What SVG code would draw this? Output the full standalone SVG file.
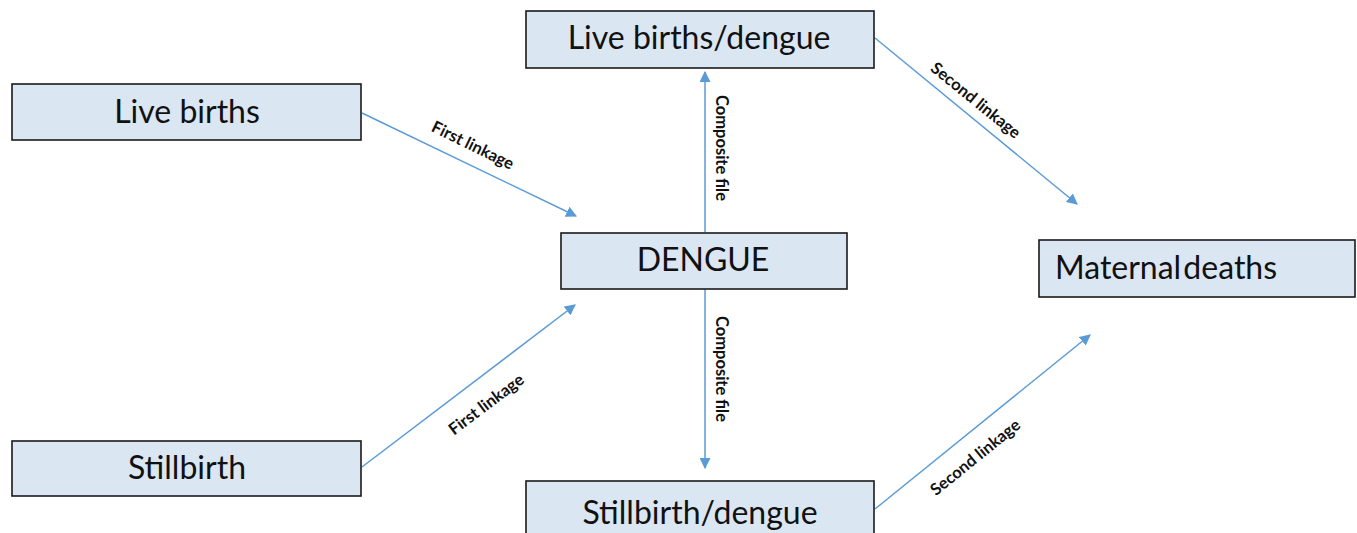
<svg xmlns="http://www.w3.org/2000/svg" width="1357" height="533" viewBox="0 0 1357 533">
<defs>
<style>
.box{fill:#dbe6f3;stroke:#1a1a1a;stroke-width:1.6}
.t{font-family:Lato,"Open Sans",sans-serif;font-size:32px;fill:#111}
.c{stroke:#5b9bd5;stroke-width:1.5;fill:none;marker-end:url(#ah)}
.l{font-family:Lato,"Open Sans",sans-serif;font-size:16.5px;font-weight:bold;fill:#111}
</style>
<marker id="ah" viewBox="0 0 10 10" refX="9" refY="5" markerWidth="11" markerHeight="11" markerUnits="userSpaceOnUse" orient="auto">
<path d="M0,0 L10,5 L0,10 z" fill="#5b9bd5"/>
</marker>
</defs>
<rect width="1357" height="533" fill="#fff"/>
<g id="connectors">
<line class="c" x1="362" y1="113" x2="576" y2="216"/>
<line class="c" x1="362" y1="467" x2="575" y2="305"/>
<line class="c" x1="705" y1="232" x2="705" y2="72"/>
<line class="c" x1="705" y1="289" x2="705" y2="468"/>
<line class="c" x1="875" y1="38" x2="1077" y2="204"/>
<line class="c" x1="875" y1="509" x2="1090" y2="335"/>
<text class="l" transform="translate(473,145) rotate(26)" text-anchor="middle" dominant-baseline="central">First linkage</text>
<text class="l" transform="translate(486,404) rotate(-37)" text-anchor="middle" dominant-baseline="central">First linkage</text>
<text class="l" transform="translate(722,148) rotate(90)" text-anchor="middle" dominant-baseline="central">Composite file</text>
<text class="l" transform="translate(722,369) rotate(90)" text-anchor="middle" dominant-baseline="central">Composite file</text>
<text class="l" transform="translate(976,100) rotate(39)" text-anchor="middle" dominant-baseline="central">Second linkage</text>
<text class="l" transform="translate(975,457) rotate(-39)" text-anchor="middle" dominant-baseline="central">Second linkage</text>
</g>
<g id="live-births-dengue">
<rect class="box" x="526" y="11" width="348" height="57"/>
<text class="t" x="699" y="49" text-anchor="middle">Live births/dengue</text>
</g>
<g id="live-births">
<rect class="box" x="12" y="84" width="349" height="56"/>
<text class="t" x="187" y="123" text-anchor="middle">Live births</text>
</g>
<g id="dengue">
<rect class="box" x="561" y="233" width="286" height="56"/>
<text class="t" x="703" y="271" text-anchor="middle">DENGUE</text>
</g>
<g id="maternal-deaths">
<rect class="box" x="1039" y="240" width="316" height="57"/>
<text class="t" x="1055" y="279" word-spacing="-6">Maternal deaths</text>
</g>
<g id="stillbirth">
<rect class="box" x="12" y="441" width="349" height="55"/>
<text class="t" x="187" y="479" text-anchor="middle">Stillbirth</text>
</g>
<g id="stillbirth-dengue">
<rect class="box" x="526" y="481" width="348" height="60"/>
<text class="t" x="700" y="524" text-anchor="middle">Stillbirth/dengue</text>
</g>
</svg>
